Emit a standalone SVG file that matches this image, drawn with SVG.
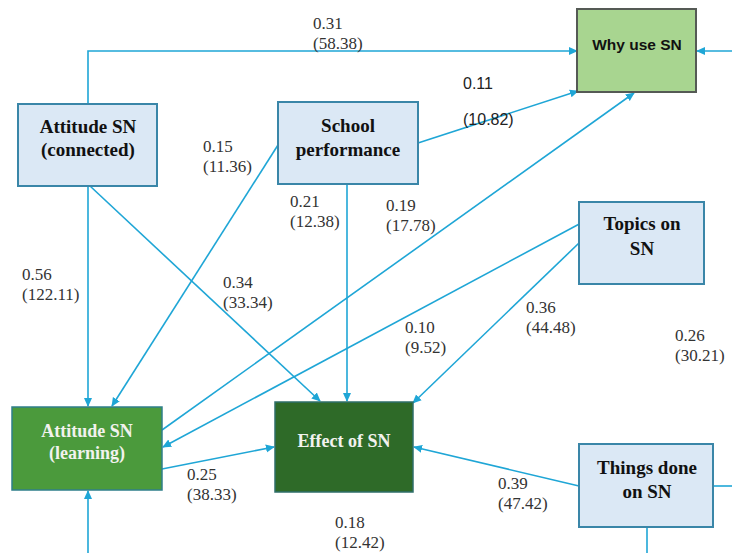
<svg xmlns="http://www.w3.org/2000/svg" width="732" height="553" viewBox="0 0 732 553">
<defs>
<marker id="arr" viewBox="0 0 10 10" refX="9" refY="5" markerWidth="9" markerHeight="9" markerUnits="userSpaceOnUse" orient="auto">
<path d="M0,0.5 L10,5 L0,9.5 z" fill="#1fa6d6"/>
</marker>
<style>
.c{fill:none;stroke:#1fa6d6;stroke-width:1.6}
.a{marker-end:url(#arr)}
.lb{fill:#dbe8f5;stroke:#3a86a8;stroke-width:2}
.t{font-family:"Liberation Serif",serif;font-weight:bold;font-size:19px;text-anchor:middle;fill:#111}
.tw{font-family:"Liberation Serif",serif;font-weight:bold;font-size:18px;text-anchor:middle;fill:#f2f2ee}
.n{font-family:"Liberation Serif",serif;font-size:17px;fill:#333}
.s{font-family:"Liberation Sans",sans-serif;font-size:16px;fill:#222}
</style>
</defs>
<rect width="732" height="553" fill="#ffffff"/>
<g id="connectors">
<polyline class="c a" points="88,104 88,51 577,51"/>
<line class="c a" x1="732" y1="51" x2="697" y2="51"/>
<line class="c a" x1="418" y1="143" x2="578" y2="91"/>
<line class="c a" x1="162" y1="430" x2="634" y2="93"/>
<line class="c a" x1="583" y1="222" x2="163" y2="447"/>
<line class="c a" x1="579" y1="243" x2="413" y2="403"/>
<line class="c a" x1="278" y1="145" x2="112" y2="406"/>
<line class="c a" x1="88" y1="186" x2="88" y2="406"/>
<line class="c a" x1="90" y1="186" x2="320" y2="401"/>
<line class="c a" x1="347" y1="184" x2="347" y2="401"/>
<line class="c a" x1="162" y1="469" x2="274" y2="447"/>
<line class="c a" x1="579" y1="486" x2="414" y2="447"/>
<line class="c" x1="713" y1="486" x2="732" y2="486"/>
<line class="c" x1="647" y1="527" x2="647" y2="553"/>
<line class="c a" x1="88" y1="553" x2="88" y2="491"/>
</g>
<g id="attitude-connected">
<rect class="lb" x="18" y="104" width="139" height="82"/>
<text class="t" x="88" y="133">Attitude SN</text>
<text class="t" x="88" y="156">(connected)</text>
</g>
<g id="school-performance">
<rect class="lb" x="278" y="102" width="140" height="82"/>
<text class="t" x="348" y="132">School</text>
<text class="t" x="348" y="156">performance</text>
</g>
<g id="why-use-sn">
<rect x="577" y="9" width="119" height="83" fill="#a8d590" stroke="#555a55" stroke-width="2"/>
<text x="637" y="50" font-family="Liberation Sans,sans-serif" font-weight="bold" font-size="15.5" text-anchor="middle" fill="#111">Why use SN</text>
</g>
<g id="topics-on-sn">
<rect class="lb" x="579" y="202" width="125" height="82"/>
<text class="t" x="642" y="230">Topics on</text>
<text class="t" x="642" y="255">SN</text>
</g>
<g id="attitude-learning">
<rect x="12" y="407" width="150" height="83" fill="#4b9a3c" stroke="#2f7f8a" stroke-width="1.5"/>
<text class="tw" x="87" y="437">Attitude SN</text>
<text class="tw" x="87" y="459">(learning)</text>
</g>
<g id="effect-of-sn">
<rect x="275" y="402" width="138" height="90" fill="#2e6a28" stroke="#2f6f6a" stroke-width="1.5"/>
<text class="tw" x="344" y="447">Effect of SN</text>
</g>
<g id="things-done-on-sn">
<rect class="lb" x="579" y="444" width="134" height="83"/>
<text class="t" x="647" y="474">Things done</text>
<text class="t" x="647" y="498">on SN</text>
</g>
<g id="labels">
<text class="n" x="313" y="29">0.31</text>
<text class="n" x="313" y="49">(58.38)</text>
<text class="s" x="463" y="89">0.11</text>
<text class="s" x="463" y="125">(10.82)</text>
<text class="n" x="203" y="152">0.15</text>
<text class="n" x="203" y="172">(11.36)</text>
<text class="n" x="290" y="207">0.21</text>
<text class="n" x="290" y="227">(12.38)</text>
<text class="n" x="386" y="211">0.19</text>
<text class="n" x="386" y="231">(17.78)</text>
<text class="n" x="22" y="280">0.56</text>
<text class="n" x="22" y="300">(122.11)</text>
<text class="n" x="223" y="288">0.34</text>
<text class="n" x="223" y="308">(33.34)</text>
<text class="n" x="526" y="313">0.36</text>
<text class="n" x="526" y="333">(44.48)</text>
<text class="n" x="405" y="333">0.10</text>
<text class="n" x="405" y="353">(9.52)</text>
<text class="n" x="675" y="341">0.26</text>
<text class="n" x="675" y="361">(30.21)</text>
<text class="n" x="187" y="480">0.25</text>
<text class="n" x="187" y="500">(38.33)</text>
<text class="n" x="498" y="489">0.39</text>
<text class="n" x="498" y="509">(47.42)</text>
<text class="n" x="335" y="528">0.18</text>
<text class="n" x="335" y="548">(12.42)</text>
</g>
</svg>
